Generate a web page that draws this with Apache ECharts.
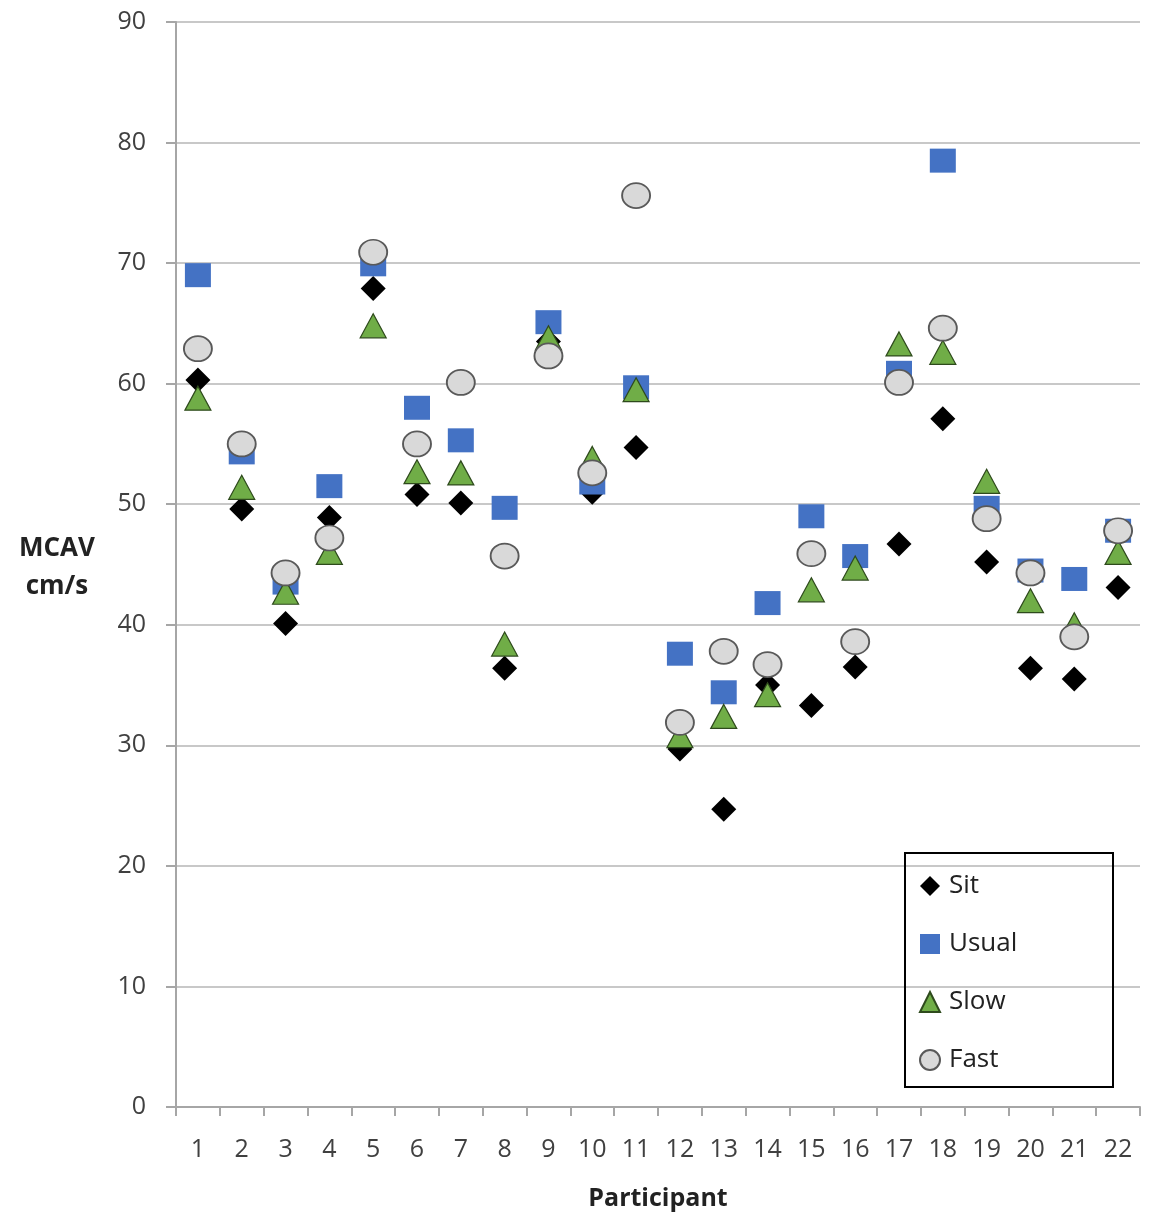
<!DOCTYPE html>
<html>
<head>
<meta charset="utf-8">
<script src="https://cdn.jsdelivr.net/npm/echarts@6/dist/echarts.min.js"></script>
<style>
  html, body { margin: 0; padding: 0; background: #fff; overflow: hidden; }
  #chart { width: 1156px; height: 1216px; }
</style>
</head>
<body>
<div id="chart"></div>
<script>
// Participants 1..22
const participants = ['1','2','3','4','5','6','7','8','9','10','11','12','13','14','15','16','17','18','19','20','21','22'];

// Middle cerebral artery velocity (cm/s) per condition
const sit   = [60.3, 49.6, 40.1, 48.9, 67.9, 50.8, 50.1, 36.4, 63.5, 51.0, 54.7, 29.7, 24.7, 35.0, 33.3, 36.5, 46.7, 57.1, 45.2, 36.4, 35.5, 43.1];
const usual = [69.0, 54.3, 43.5, 51.5, 69.9, 58.0, 55.3, 49.7, 65.1, 51.8, 59.7, 37.6, 34.4, 41.8, 49.0, 45.7, 60.9, 78.5, 49.7, 44.5, 43.8, 47.8];
const slow  = [58.8, 51.4, 42.7, 46.0, 64.8, 52.7, 52.6, 38.4, 63.8, 53.8, 59.5, 30.8, 32.4, 34.2, 42.9, 44.7, 63.3, 62.6, 51.9, 42.0, 40.0, 46.0];
const fast  = [62.9, 55.0, 44.3, 47.2, 70.9, 55.0, 60.1, 45.7, 62.3, 52.6, 75.6, 31.9, 37.8, 36.7, 45.9, 38.6, 60.1, 64.6, 48.8, 44.3, 39.0, 47.8];

const FONT = '"Open Sans", Lato, sans-serif';

const chart = echarts.init(document.getElementById('chart'), null, { renderer: 'canvas' });

chart.setOption({
  animation: false,
  backgroundColor: '#ffffff',
  textStyle: { fontFamily: FONT },
  grid: { left: 176, top: 22, width: 964, height: 1085, containLabel: false },
  legend: {
    orient: 'vertical',
    left: 919,
    top: 873,
    padding: 0,
    itemGap: 32,
    itemWidth: 20,
    itemHeight: 20,
    textStyle: { fontSize: 26, color: '#222222', fontFamily: FONT, padding: [0, 0, 0, 4] },
    data: ['Sit', 'Usual', 'Slow', 'Fast']
  },
  xAxis: {
    type: 'category',
    data: participants,
    boundaryGap: true,
    axisLine: { lineStyle: { color: '#a6a6a6', width: 2 } },
    axisTick: { show: true, alignWithLabel: false, length: 9, lineStyle: { color: '#a6a6a6', width: 2 } },
    axisLabel: { fontSize: 25, color: '#404040', margin: 30, fontFamily: FONT },
    splitLine: { show: false },
    name: 'Participant',
    nameLocation: 'middle',
    nameGap: 79,
    nameTextStyle: { fontSize: 25, fontWeight: 'bold', color: '#222222', fontFamily: FONT }
  },
  yAxis: {
    type: 'value',
    min: 0,
    max: 90,
    interval: 10,
    axisLine: { show: true, lineStyle: { color: '#a6a6a6', width: 2 } },
    axisTick: { show: true, length: 10, lineStyle: { color: '#a6a6a6', width: 2 } },
    axisLabel: { fontSize: 25, color: '#404040', margin: 30, fontFamily: FONT },
    splitLine: { show: true, lineStyle: { color: '#c8c8c8', width: 2 } }
  },
  graphic: [
    {
      type: 'text',
      x: 57,
      y: 530,
      style: {
        text: 'MCAV\ncm/s',
        font: 'bold 26px ' + FONT,
        fill: '#222222',
        textAlign: 'center',
        lineHeight: 38
      }
    },
    {
      // legend frame
      type: 'rect',
      shape: { x: 905, y: 853, width: 208, height: 234 },
      style: { fill: 'none', stroke: '#000000', lineWidth: 2 },
      z: 10
    }
  ],
  series: [
    {
      name: 'Sit',
      type: 'scatter',
      data: sit,
      symbol: 'diamond',
      symbolSize: [25, 25],
      itemStyle: { color: '#000000', opacity: 1 },
      z: 2
    },
    {
      name: 'Usual',
      type: 'scatter',
      data: usual,
      symbol: 'rect',
      symbolSize: [26, 24],
      itemStyle: { color: '#4472c4', opacity: 1 },
      z: 3
    },
    {
      name: 'Slow',
      type: 'scatter',
      data: slow,
      symbol: 'triangle',
      symbolSize: [26, 24],
      itemStyle: { color: '#70ad47', borderColor: '#2e4a1c', borderWidth: 1.2, opacity: 1 },
      z: 4
    },
    {
      name: 'Fast',
      type: 'scatter',
      data: fast,
      symbol: 'circle',
      symbolSize: [28, 25],
      itemStyle: { color: '#d9d9d9', borderColor: '#595959', borderWidth: 1.8, opacity: 1 },
      z: 5
    }
  ]
});
</script>
</body>
</html>
